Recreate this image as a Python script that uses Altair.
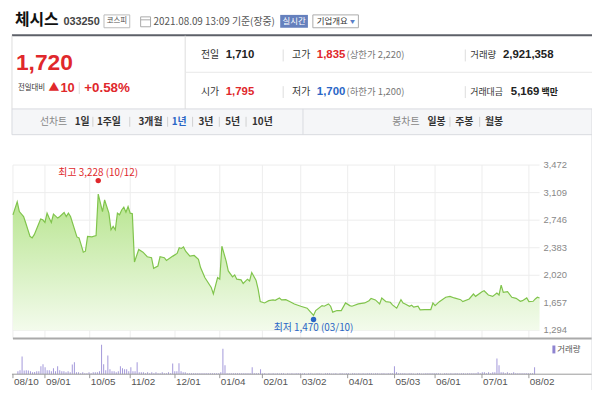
import altair as alt
import pandas as pd

# ---------------- data ----------------
stock_name = "체시스"
stock_code = "033250"
market = "코스피"
as_of = "2021.08.09 13:09 기준(장중)"
cur_price = 1720
prev_close = 1710
change = 10
change_pct = 0.58
open_price = 1795
high_price = 1835
low_price = 1700
upper_limit = 2220
lower_limit = 1200
volume_today = 2921358
amount_mil = 5169

line_tabs = ["1일", "1주일", "3개월", "1년", "3년", "5년", "10년"]
candle_tabs = ["일봉", "주봉", "월봉"]

price_ticks = [1294, 1657, 2020, 2383, 2746, 3109, 3472]
date_tick_idx = [0, 15, 36, 55, 76, 97, 117, 135, 157, 179, 198, 220, 242]
date_tick_lbl = ["08/10", "09/01", "10/05", "11/02", "12/01", "01/04", "02/01",
                 "03/02", "04/01", "05/03", "06/01", "07/01", "08/02"]

# (trading-day index, close)
price_points = [
    (0, 2816), (2, 2989), (3, 2859), (5, 2794), (6, 2708), (8, 2533), (9, 2512), (10, 2555),
    (13, 2760), (14, 2751), (15, 2716), (16, 2838), (17, 2773), (18, 2716), (19, 2825),
    (21, 2773), (22, 2794), (24, 2846), (25, 2794), (26, 2838), (27, 2794), (30, 2525),
    (31, 2512), (32, 2420), (33, 2324), (34, 2337), (35, 2533), (37, 2525), (39, 2542),
    (40, 3090), (42, 2859), (43, 3012), (45, 2838), (46, 2620), (47, 2663), (48, 2620),
    (49, 2838), (50, 2816), (51, 2880), (52, 2916), (53, 2850), (54, 2924), (55, 2838),
    (56, 2830), (57, 2194), (59, 2360), (61, 2324), (63, 2264), (65, 2251), (66, 2112),
    (68, 2142), (69, 2264), (71, 2251), (72, 2216), (75, 2272), (77, 2307), (78, 2382),
    (79, 2373), (80, 2394), (81, 2337), (83, 2272), (85, 2281), (87, 2229), (88, 2121),
    (90, 1990), (93, 1860), (94, 1773), (96, 1990), (97, 1968), (98, 2403), (100, 2207),
    (101, 2077), (103, 1999), (104, 2025), (105, 1968), (107, 1959), (108, 1912), (110, 1968),
    (111, 1946), (112, 2056), (114, 1955), (115, 1838), (116, 1672), (118, 1655), (120, 1685),
    (122, 1695), (123, 1690), (125, 1721), (126, 1695), (128, 1698), (130, 1672), (132, 1642),
    (135, 1612), (138, 1586), (139, 1555), (141, 1490), (142, 1555), (145, 1620), (146, 1612),
    (148, 1642), (149, 1612), (150, 1534), (152, 1555), (154, 1555), (156, 1655), (158, 1620),
    (159, 1612), (162, 1642), (165, 1655), (167, 1685), (168, 1716), (170, 1695), (172, 1642),
    (173, 1721), (175, 1672), (177, 1664), (178, 1629), (180, 1586), (182, 1698), (183, 1655),
    (184, 1642), (186, 1612), (187, 1625), (188, 1599), (190, 1612), (191, 1564), (193, 1568),
    (196, 1568), (197, 1655), (198, 1620), (200, 1672), (203, 1730), (205, 1742), (207, 1721),
    (210, 1698), (211, 1672), (214, 1708), (216, 1773), (217, 1742), (220, 1803), (221, 1816),
    (223, 1760), (225, 1742), (227, 1786), (228, 1760), (229, 1890), (230, 1795), (232, 1803),
    (234, 1730), (236, 1716), (238, 1677), (239, 1685), (241, 1721), (242, 1672), (244, 1677),
    (245, 1708), (246, 1730), (247, 1720),
]

high_point = (40, 3228, "최고 3,228 (10/12)")
low_point = (141, 1470, "최저 1,470 (03/10)")

# daily volume, thousands of shares, by month
vol_2020_08 = [1250, 1670, 7500, 1620, 1700, 1580, 1240, 830, 910, 1300, 1210, 3330, 4170, 2900, 1650]
vol_2020_09 = [1680, 1230, 2500, 1260, 3340, 1690, 1200, 1280, 820, 1250, 850, 4150, 5020, 840,
               790, 420, 830, 410, 450, 820, 430]
vol_2020_10 = [830, 790, 860, 1240, 12500, 4180, 1660, 7920, 2090, 1270, 1230, 850, 1260, 3320,
               2510, 2080, 2060, 1250, 2900]
vol_2020_11 = [1260, 1240, 5010, 830, 810, 840, 420, 830, 410, 820, 430, 850, 400, 420, 830, 410,
               440, 820, 420, 4580, 1250]
vol_2020_12 = [1240, 4590, 1260, 840, 820, 420, 410, 430, 400, 420, 410, 440, 420, 400, 430, 410,
               420, 390, 430, 410, 420]
vol_2021_01 = [830, 10830, 3750, 420, 410, 430, 400, 420, 410, 440, 420, 400, 430, 410, 420, 2920,
               410, 430, 400, 2080]
vol_2021_02 = [310, 420, 210, 400, 330, 420, 250, 410, 300, 420, 380, 210, 400, 330, 410, 260, 420, 350]
vol_2021_03 = [400, 300, 420, 210, 380, 420, 330, 250, 410, 420, 300, 210, 400, 380, 420, 260, 330,
               410, 210, 400, 420, 300]
vol_2021_04 = [420, 380, 210, 410, 420, 300, 400, 330, 420, 250, 410, 420, 380, 300, 420, 400, 330,
               420, 410, 260, 420, 400]
vol_2021_05 = [420, 3330, 830, 420, 410, 380, 420, 300, 400, 420, 330, 210, 410, 420, 300, 250, 420,
               400, 380]
vol_2021_06 = [420, 410, 380, 420, 300, 210, 400, 420, 330, 410, 250, 420, 380, 300, 420, 410, 330,
               420, 400, 380, 420, 410]
vol_2021_07 = [830, 420, 790, 820, 410, 840, 420, 830, 810, 6670, 3750, 830, 810, 420, 830, 410, 420,
               830, 400, 420, 410, 420]
vol_2021_08 = [420, 410, 430, 400, 420, 2921]

# ---------------- styling ----------------
KR = "Noto Sans CJK KR"
NUM = "Liberation Sans"
RED = "#e0282c"
BLUE = "#2a66c6"
W, H = 590, 382
O = 8  # page margin: image coords -> chart coords


def T(s, x, y, size=12, color="#333333", bold=False, align="left", font=KR):
    return alt.Chart().mark_text(
        text=s, align=align, baseline="middle", fontSize=size, color=color,
        fontWeight="bold" if bold else "normal", font=font,
    ).encode(x=alt.value(x - O), y=alt.value(y - O))


def R(x1, x2, y1, y2, fill="#ffffff", stroke=None, sw=1):
    kw = dict(fill=fill)
    if stroke:
        kw.update(stroke=stroke, strokeWidth=sw)
    return alt.Chart().mark_rect(**kw).encode(
        x=alt.value(x1 - O), x2=alt.value(x2 - O), y=alt.value(y1 - O), y2=alt.value(y2 - O))


def L(x1, x2, y1, y2, color="#dddddd", sw=1):
    return alt.Chart().mark_rule(color=color, strokeWidth=sw).encode(
        x=alt.value(x1 - O), x2=alt.value(x2 - O), y=alt.value(y1 - O), y2=alt.value(y2 - O))


layers = []

# header row
layers += [
    T(stock_name, 15, 18, 16, "#111111", True),
    T(stock_code, 64, 20, 11, "#444444", True, font=NUM),
    R(105, 131, 13, 26, "#ffffff", "#bbbbbb"),
    T(market, 118, 19.5, 7.5, "#555555", align="center"),
    R(142, 152, 15, 25, "#ffffff", "#aaaaaa"),
    L(142, 152, 18, 18, "#aaaaaa"),
    T(as_of, 155, 20, 10, "#555555"),
    R(283, 311, 13, 26, "#6580bd"),
    T("실시간", 297, 19.5, 8.5, "#ffffff", align="center"),
    R(316, 362, 13, 26, "#ffffff", "#aaaaaa"),
    T("기업개요", 320, 19.5, 8.5, "#333333"),
    T("▼", 356, 19.5, 5, "#5a7ec7", align="center"),
    L(12, 600, 33.5, 33.5, "#5d6068", 2),
]

# summary box
layers += [
    L(12, 12, 34, 108, "#dddddd"),
    L(187, 187, 34, 108, "#dddddd"),
    L(187, 598, 71, 71, "#e8e8e8"),
    T(f"{cur_price:,}", 16, 62, 23, RED, True, font=NUM),
    T("전일대비", 18, 87, 7.5, "#333333"),
    T("▲", 49, 87, 11, RED),
    T(f"{change}", 61, 87, 13, RED, True, font=NUM),
    L(80, 80, 81, 93, "#dddddd"),
    T(f"+{change_pct:.2f}%", 85, 87, 13.5, RED, True, font=NUM),
    T("전일", 203, 54, 10, "#333333"),
    T(f"{prev_close:,}", 228, 54, 11.5, "#222222", True, font=NUM),
    T("시가", 203, 91, 10, "#333333"),
    T(f"{open_price:,}", 228, 91, 11.5, RED, True, font=NUM),
    L(286, 286, 48, 60, "#dddddd"),
    L(286, 286, 85, 97, "#dddddd"),
    T("고가", 295, 54, 10, "#333333"),
    T(f"{high_price:,}", 320, 54, 11.5, RED, True, font=NUM),
    T(f"(상한가 {upper_limit:,})", 350, 54, 9.5, "#777777"),
    T("저가", 295, 91, 10, "#333333"),
    T(f"{low_price:,}", 320, 91, 11.5, BLUE, True, font=NUM),
    T(f"(하한가 {lower_limit:,})", 350, 91, 9.5, "#777777"),
    L(470, 470, 48, 60, "#dddddd"),
    L(470, 470, 85, 97, "#dddddd"),
    T("거래량", 475, 54, 9.5, "#333333"),
    T(f"{volume_today:,}", 508, 54, 11.5, "#222222", True, font=NUM),
    T("거래대금", 475, 91, 9, "#333333"),
    T(f"{amount_mil:,}", 516, 91, 11.5, "#222222", True, font=NUM),
    T("백만", 547, 91, 9, "#222222", True),
]

# tab bar
tab_x = [83, 110, 152, 181, 208, 235, 265]
tab_w = [15, 26, 26, 15, 15, 15, 21]
layers += [
    R(12, 598, 108, 134, "#f5f6f8", "#d9dbe0"),
    L(306, 306, 108, 134, "#d9dbe0"),
    T("선차트", 54, 121, 10, "#888888", align="center"),
    T("봉차트", 410, 121, 10, "#888888", align="center"),
]
for k, (lbl, xx) in enumerate(zip(line_tabs, tab_x)):
    layers.append(T(lbl, xx, 121, 10, BLUE if lbl == "1년" else "#333333", True, align="center"))
    if k > 0:
        left_edge = tab_x[k - 1] + tab_w[k - 1] / 2
        right_edge = xx - tab_w[k] / 2
        sx = (left_edge + right_edge) / 2
        layers.append(L(sx, sx, 116, 126, "#d0d0d0"))
for k, (lbl, xx) in enumerate(zip(candle_tabs, [441, 469, 499])):
    layers.append(T(lbl, xx, 121, 10, "#333333", True, align="center"))
    if k > 0:
        sx = xx - 14.5
        layers.append(L(sx, sx, 116, 126, "#d0d0d0"))

# ---------------- price chart ----------------
xs = alt.Scale(domain=[0, 247], range=[13 - O, 545 - O])
ys = alt.Scale(domain=[1294, 3472], range=[331.7 - O, 164.7 - O])
vs = alt.Scale(domain=[0, 13000], range=[376 - O, 345 - O])

df_price = pd.DataFrame(price_points, columns=["i", "v"])
df_pt = pd.DataFrame({"v": price_ticks, "lbl": [f"{t:,}" for t in price_ticks]})
df_dt = pd.DataFrame({"i": date_tick_idx, "lbl": date_tick_lbl})
volumes = (vol_2020_08 + vol_2020_09 + vol_2020_10 + vol_2020_11 + vol_2020_12 + vol_2021_01
           + vol_2021_02 + vol_2021_03 + vol_2021_04 + vol_2021_05 + vol_2021_06 + vol_2021_07
           + vol_2021_08)
df_vol = pd.DataFrame({"i": list(range(len(volumes))), "vol": volumes})
df_hi = pd.DataFrame([high_point], columns=["i", "v", "lbl"])
df_lo = pd.DataFrame([low_point], columns=["i", "v", "lbl"])

X = alt.X("i:Q", scale=xs, axis=None)
Y = alt.Y("v:Q", scale=ys, axis=None)

grad = alt.Gradient(
    gradient="linear",
    stops=[alt.GradientStop(color="#b6e48d", offset=0),
           alt.GradientStop(color="#f3fbec", offset=1)],
    x1=0, x2=0, y1=0, y2=1,
)

layers += [
    alt.Chart(df_pt).mark_rule(color="#ededed").encode(y=Y, x=alt.value(13 - O), x2=alt.value(545 - O)),
    alt.Chart(df_dt).mark_rule(color="#ededed").encode(x=X, y=alt.value(164.7 - O), y2=alt.value(340 - O)),
    alt.Chart(df_price).mark_area(color=grad).encode(x=X, y=Y, y2=alt.datum(1294)),
    alt.Chart(df_price).mark_line(color="#80c44c", strokeWidth=1.2).encode(x=X, y=Y),
    alt.Chart(df_pt).mark_text(align="left", baseline="middle", fontSize=9.5, color="#888888",
                               font=NUM).encode(y=Y, x=alt.value(549 - O), text="lbl:N"),
    alt.Chart(df_hi).mark_circle(size=30, color=RED, opacity=1, yOffset=-3).encode(x=X, y=Y),
    alt.Chart(df_hi).mark_text(dy=-11, fontSize=10, color=RED, font=KR).encode(x=X, y=Y, text="lbl:N"),
    alt.Chart(df_lo).mark_circle(size=30, color=BLUE, opacity=1, yOffset=2.5).encode(x=X, y=Y),
    alt.Chart(df_lo).mark_text(dy=11, fontSize=10, color=BLUE, font=KR).encode(x=X, y=Y, text="lbl:N"),
    L(13, 598, 340, 340, "#aaaaaa", 2),
]

# ---------------- volume ----------------
layers += [
    alt.Chart(df_vol).mark_bar(size=1, color="#a398da").encode(
        x=X, y=alt.Y("vol:Q", scale=vs, axis=None)),
    L(12, 598, 376, 376, "#999999"),
    alt.Chart(df_dt).mark_rule(color="#999999").encode(x=X, y=alt.value(376 - O), y2=alt.value(380 - O)),
    alt.Chart(df_dt).mark_text(align="left", baseline="middle", fontSize=10, color="#555555",
                               font=NUM, dx=1).encode(x=X, y=alt.value(384 - O), text="lbl:N"),
    R(558, 561, 347, 355, "#8f84d0"),
    T("거래량", 563, 351, 8.5, "#555555"),
    L(598, 598, 134, 399, "#d9dbe0"),
]

chart = alt.layer(*layers, data=pd.DataFrame({"_": [0]})).resolve_scale(
    x="independent", y="independent"
).properties(
    width=W, height=H, padding=0, autosize=alt.AutoSizeParams(type="none"),
).configure_view(stroke=None)

chart.save("out.html", embed_options={"renderer": "svg", "actions": False})
